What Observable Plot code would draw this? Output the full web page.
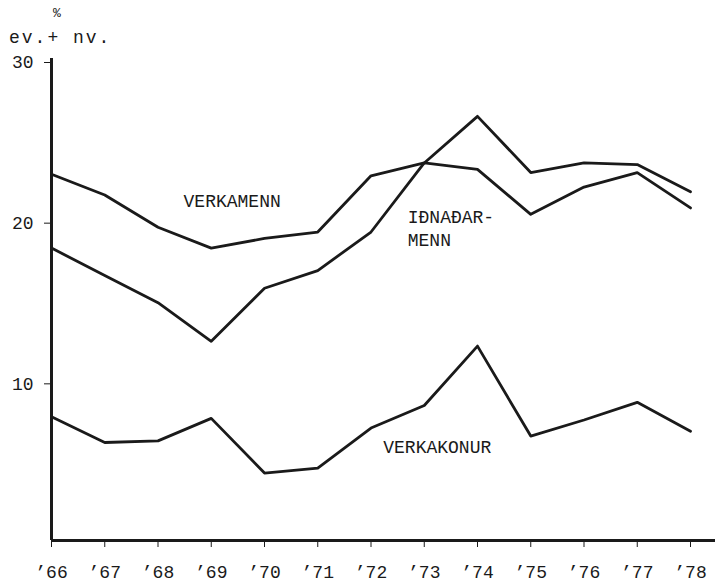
<!DOCTYPE html>
<html>
<head>
<meta charset="utf-8">
<script src="https://cdn.jsdelivr.net/npm/d3@7"></script>
<script src="https://cdn.jsdelivr.net/npm/@observablehq/plot@0.6"></script>
<style>
  html, body { margin: 0; padding: 0; background: #fff; }
  #wrap { position: relative; width: 715px; height: 584px; font-family: "Liberation Mono", "DejaVu Sans Mono", monospace; color: #1a1a1a; }
  #pct { position: absolute; left: 53px; top: 7px; font-size: 13px; line-height: 13px; }
  #unit { position: absolute; left: 9px; top: 29px; font-size: 18px; line-height: 18px; letter-spacing: 2px; }
  #chart { position: absolute; left: 0; top: 0; }
</style>
</head>
<body>
<div id="wrap">
  <div id="chart"></div>
  <div id="pct">%</div>
  <div id="unit">ev.+ nv.</div>
</div>
<script>
const years = [1966, 1967, 1968, 1969, 1970, 1971, 1972, 1973, 1974, 1975, 1976, 1977, 1978];
const yearLabels = ["’66", "’67", "’68", "’69", "’70", "’71", "’72", "’73", "’74", "’75", "’76", "’77", "’78"];
const yTicks = [10, 20, 30];

const verkamenn   = [22.8, 21.5, 19.5, 18.2, 18.8, 19.2, 22.7, 23.5, 23.1, 20.3, 22.0, 22.9, 20.7];
const idnadarmenn = [18.2, 16.5, 14.8, 12.4, 15.7, 16.8, 19.2, 23.5, 26.4, 22.9, 23.5, 23.4, 21.7];
const verkakonur  = [7.7, 6.1, 6.2, 7.6, 4.2, 4.5, 7.0, 8.4, 12.1, 6.5, 7.5, 8.6, 6.8];

const labelTexts  = ["VERKAMENN", "IÐNAÐAR-", "MENN", "VERKAKONUR"];
const labelYears  = [1968.48, 1972.69, 1972.69, 1972.23];
const labelValues = [21.1, 20.1, 18.67, 5.79];

const seriesList = [
  ["Verkamenn", verkamenn],
  ["Iðnaðarmenn", idnadarmenn],
  ["Verkakonur", verkakonur]
];
const data = seriesList.flatMap(([name, vals]) => vals.map((v, i) => ({series: name, year: years[i], value: v})));
const labels = labelTexts.map((t, i) => ({text: t, year: labelYears[i], value: labelValues[i]}));

const ink = "#1a1a1a";
const chart = Plot.plot({
  width: 715,
  height: 584,
  marginLeft: 51,
  marginRight: 25,
  marginTop: 58,
  marginBottom: 44,
  style: {fontFamily: "'Liberation Mono', 'DejaVu Sans Mono', monospace", fontSize: "18px", color: ink, background: "#fff"},
  x: {domain: [1966, 1978]},
  y: {domain: [0, 30]},
  marks: [
    Plot.axisY({ticks: yTicks, tickSize: 7, tickPadding: 11, dy: 4, label: null, fontSize: 18}),
    Plot.axisX({ticks: years, tickFormat: d => yearLabels[years.indexOf(d)], tickSize: 7, tickPadding: 18, label: null, fontSize: 18}),
    Plot.ruleX([years[0]], {y1: 0, y2: 30, stroke: ink, strokeWidth: 3}),
    Plot.ruleY([0], {x1: years[0], x2: years[years.length - 1] + 0.5, stroke: ink, strokeWidth: 3}),
    Plot.line(data, {x: "year", y: "value", z: "series", stroke: ink, strokeWidth: 2.8, strokeLinejoin: "round", strokeLinecap: "round"}),
    Plot.text(labels, {x: "year", y: "value", text: "text", textAnchor: "start", fontSize: 18, fill: ink, style: "letter-spacing:2px"})
  ]
});
document.getElementById("chart").appendChild(chart);
</script>
</body>
</html>
